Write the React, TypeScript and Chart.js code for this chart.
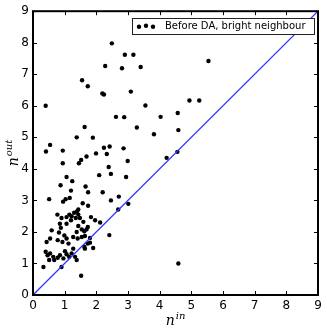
import React, { useEffect, useRef } from "react";
import { Chart, registerables } from "chart.js";

Chart.register(...registerables);

const nIn = [
  2.49, 2.9, 3.17, 2.28, 2.81, 3.4, 5.54, 1.55, 1.73, 2.19, 2.24, 3.09, 0.4, 3.55, 4.94, 5.25,
  2.62, 2.88, 4.03, 4.57, 1.63, 3.28, 1.38, 1.89, 3.82, 4.59, 0.54, 0.41, 0.94, 2.24, 2.42, 2.86,
  0.94, 1.45, 1.52, 1.69, 1.99, 2.33, 2.99, 2.39, 4.22, 4.56, 2.09, 2.46, 2.94, 1.06, 1.24, 0.87,
  1.66, 1.2, 1.74, 2.2, 1.16, 1.03, 0.95, 0.51, 1.57, 1.74, 2.71, 2.46, 3.01, 2.69, 1.43,
  0.77, 0.9, 1.06, 1.15, 1.22, 1.3, 1.39, 1.43, 1.35, 1.2, 1.48, 1.83, 1.96, 2.12, 0.85, 1.06,
  0.88, 0.82, 0.59, 0.54, 1.43, 1.54, 1.62, 1.69, 1.38, 1.27, 1.41, 1.54, 1.64, 1.8, 0.99, 1.06,
  0.78, 0.93, 1.12, 0.43, 0.4, 0.54, 0.46, 0.64, 0.67, 0.78, 0.85, 0.96, 1.06, 1.14, 1.22, 1.01,
  1.27, 0.33, 0.51, 0.9, 1.33, 1.38, 1.52, 1.64, 1.73, 1.62, 1.9, 1.8, 2.41, 4.59, 1.59, 1.73,
];

const nOut = [
  7.98, 7.62, 7.62, 7.26, 7.19, 7.23, 7.42, 6.81, 6.62, 6.39, 6.36, 6.45, 6.0, 6.01, 6.17, 6.17,
  5.65, 5.64, 5.65, 5.77, 5.33, 5.31, 5.0, 4.99, 5.1, 5.23, 4.76, 4.55, 4.58, 4.67, 4.71, 4.65,
  4.18, 4.18, 4.28, 4.39, 4.49, 4.47, 4.25, 4.06, 4.35, 4.54, 3.8, 3.84, 3.74, 3.74, 3.61, 3.48,
  3.44, 3.31, 3.26, 3.26, 3.08, 3.04, 2.96, 3.04, 2.91, 2.83, 3.12, 3.0, 2.89, 2.71, 2.71,
  2.55, 2.44, 2.47, 2.55, 2.5, 2.61, 2.65, 2.55, 2.44, 2.37, 2.44, 2.47, 2.37, 2.3, 2.26, 2.26,
  2.13, 1.98, 2.05, 1.79, 2.19, 2.08, 2.02, 2.08, 2.0, 1.84, 1.79, 1.84, 1.87, 1.81, 1.89, 1.79,
  1.74, 1.68, 1.63, 1.68, 1.37, 1.32, 1.26, 1.21, 1.11, 1.18, 1.26, 1.16, 1.29, 1.21, 1.32, 1.39,
  1.47, 0.89, 1.11, 0.89, 1.21, 1.11, 0.61, 1.47, 1.63, 1.53, 1.49, 1.66, 1.9, 1.0, 2.32, 2.16,
];

const diagonal = [0, 9];
const tickValues = [0, 1, 2, 3, 4, 5, 6, 7, 8, 9];
const legendLabel = "Before DA, bright neighbour";
const xTitle = ["n", "in"];
const yTitle = ["n", "out"];

export default function App() {
  const ref = useRef<HTMLCanvasElement>(null);

  useEffect(() => {
    const canvas = ref.current!;

    const frame = {
      id: "frame",
      afterDraw(chart: any) {
        const { ctx, chartArea } = chart;
        const { left, right, top, bottom } = chartArea;
        const xs = chart.scales.x;
        const ys = chart.scales.y;
        ctx.save();
        ctx.strokeStyle = "#000";
        ctx.lineWidth = 1;
        ctx.beginPath();
        tickValues.forEach((v) => {
          const px = Math.round(xs.getPixelForValue(v)) + 0.5;
          ctx.moveTo(px, bottom);
          ctx.lineTo(px, bottom - 4);
          ctx.moveTo(px, top);
          ctx.lineTo(px, top + 4);
          const py = Math.round(ys.getPixelForValue(v)) + 0.5;
          ctx.moveTo(left, py);
          ctx.lineTo(left + 4, py);
          ctx.moveTo(right, py);
          ctx.lineTo(right - 4, py);
        });
        ctx.stroke();
        ctx.lineWidth = 2;
        ctx.strokeRect(left, top, right - left, bottom - top);

        // legend
        const lw = 182;
        const lh = 16;
        const lx = right - 4 - lw;
        const ly = top + 7;
        ctx.fillStyle = "#fff";
        ctx.fillRect(lx, ly, lw, lh);
        ctx.lineWidth = 1;
        ctx.strokeStyle = "#222";
        ctx.strokeRect(Math.round(lx) + 0.5, Math.round(ly) + 0.5, lw, lh);
        ctx.fillStyle = "#000";
        const dots = [
          [7, 8.5],
          [14, 7.5],
          [21, 8.5],
        ];
        dots.forEach(([dx, dy]) => {
          ctx.beginPath();
          ctx.arc(lx + dx, ly + dy, 2.2, 0, Math.PI * 2);
          ctx.fill();
        });
        ctx.font = "10px 'DejaVu Sans'";
        ctx.textBaseline = "middle";
        ctx.textAlign = "left";
        ctx.fillText(legendLabel, lx + 33, ly + lh / 2 + 0.5);

        // x title
        ctx.textBaseline = "alphabetic";
        ctx.font = "italic 14px 'DejaVu Serif'";
        const nW = ctx.measureText(xTitle[0]).width;
        ctx.font = "italic 10px 'DejaVu Serif'";
        const supW = ctx.measureText(xTitle[1]).width;
        const cx = (left + right) / 2;
        const startX = cx - (nW + supW + 1) / 2;
        ctx.font = "italic 14px 'DejaVu Serif'";
        ctx.fillText(xTitle[0], startX, 325);
        ctx.font = "italic 10px 'DejaVu Serif'";
        ctx.fillText(xTitle[1], startX + nW + 1, 319);

        // y title
        ctx.save();
        ctx.translate(18, (top + bottom) / 2);
        ctx.rotate(-Math.PI / 2);
        ctx.font = "italic 14px 'DejaVu Serif'";
        const nW2 = ctx.measureText(yTitle[0]).width;
        ctx.font = "italic 10px 'DejaVu Serif'";
        const supW2 = ctx.measureText(yTitle[1]).width;
        const sx = -(nW2 + supW2 + 1) / 2;
        ctx.font = "italic 14px 'DejaVu Serif'";
        ctx.fillText(yTitle[0], sx, 0);
        ctx.font = "italic 10px 'DejaVu Serif'";
        ctx.fillText(yTitle[1], sx + nW2 + 1, -6);
        ctx.restore();

        ctx.restore();
      },
    };

    const tickFont = { family: "'DejaVu Sans'", size: 12 };

    const chart = new Chart(canvas, {
      type: "scatter",
      data: {
        datasets: [
          {
            label: legendLabel,
            data: nIn.map((x, i) => ({ x, y: nOut[i] })),
            backgroundColor: "#000",
            borderColor: "#000",
            pointRadius: 2.2,
            pointBorderWidth: 0,
            order: 2,
          },
          {
            type: "line",
            label: "y = x",
            data: diagonal.map((v) => ({ x: v, y: v })),
            borderColor: "#3333ff",
            borderWidth: 1.3,
            pointRadius: 0,
            fill: false,
            order: 1,
          } as any,
        ],
      },
      options: {
        responsive: false,
        animation: false,
        layout: { padding: { top: 10, right: 9, left: 0, bottom: 0 } },
        plugins: { legend: { display: false }, tooltip: { enabled: false } },
        scales: {
          x: {
            type: "linear",
            min: 0,
            max: 9,
            afterBuildTicks: (s: any) => {
              s.ticks = tickValues.map((v) => ({ value: v }));
            },
            ticks: { padding: 4, color: "#000", font: tickFont, autoSkip: false, maxRotation: 0 },
            grid: { display: false, drawTicks: false },
            border: { display: false },
            afterFit: (s: any) => {
              s.height = 39;
            },
          },
          y: {
            type: "linear",
            min: 0,
            max: 9,
            afterBuildTicks: (s: any) => {
              s.ticks = tickValues.map((v) => ({ value: v }));
            },
            ticks: { padding: 4, color: "#000", font: tickFont, autoSkip: false },
            grid: { display: false, drawTicks: false },
            border: { display: false },
            afterFit: (s: any) => {
              s.width = 33;
            },
          },
        },
      },
      plugins: [frame],
    });

    return () => chart.destroy();
  }, []);

  return (
    <canvas
      ref={ref}
      width={327}
      height={334}
      style={{ position: "fixed", left: 0, top: 0, width: 327, height: 334 }}
    />
  );
}
